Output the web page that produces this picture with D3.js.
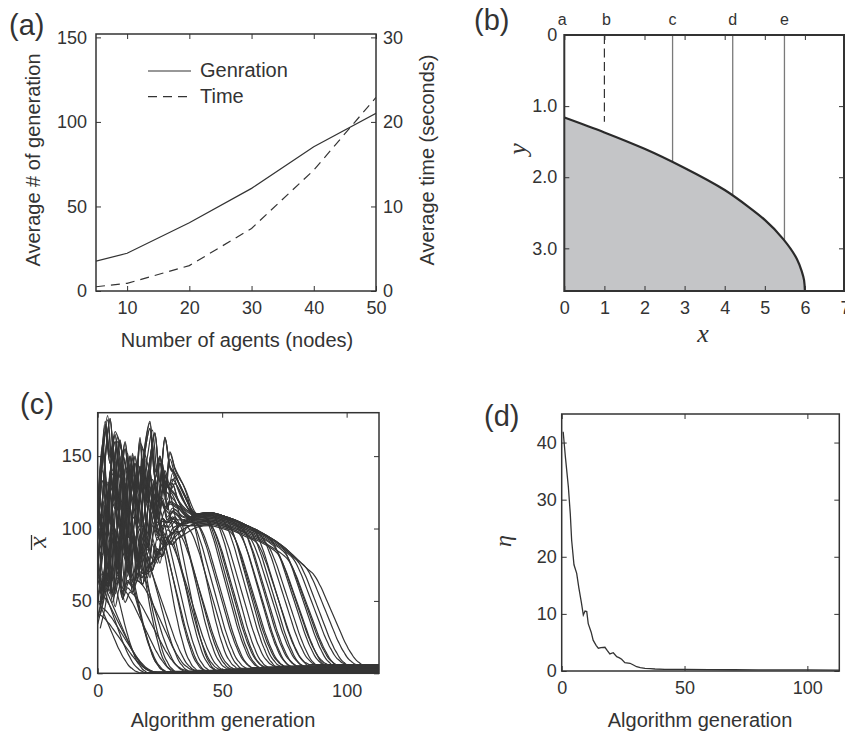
<!DOCTYPE html>
<html>
<head>
<meta charset="utf-8">
<script src="https://cdn.jsdelivr.net/npm/d3@7"></script>
<style>
  body { margin: 0; background: #fff; }
  svg text { font-family: "Liberation Sans", Arial, Helvetica, sans-serif; fill: #333; }
  .tick text { font-size: 18px; }
  .axis-title { font-size: 20px; }
  .panel-tag { font-size: 29px; }
  .math { font-family: "Liberation Serif", "DejaVu Serif", serif; font-style: italic; }
</style>
</head>
<body>
<svg id="fig" width="845" height="735"></svg>
<script>
// ---- (a) generations / time vs number of agents
const agents = [5, 10, 20, 30, 40, 50];
const avgGenerations = [17.7, 22.3, 40.4, 60.7, 85.3, 105.1];
const avgTimeSec = [0.5, 0.91, 3.0, 7.4, 14.3, 22.9];

// ---- (b) boundary curve and marker lines
const boundaryX = [0, 1, 2, 3, 4, 4.6, 5, 5.46, 5.8, 5.92, 5.98, 6.0];
const boundaryY = [1.16, 1.37, 1.6, 1.87, 2.18, 2.42, 2.6, 2.87, 3.15, 3.32, 3.45, 3.6];
const markerNames = ['a', 'b', 'c', 'd', 'e'];
const markerX = [0, 1, 2.7, 4.2, 5.49];
const markerEnd = [0, 1.22, 1.79, 2.25, 2.89];

// ---- (c) x-bar traces: noisy early rows (gens 0..34 step 2), shared crest, drop shape
const earlyGen = [0, 2, 4, 6, 8, 10, 12, 14, 16, 18, 20, 22, 24, 26, 28, 30, 32, 34];
const earlyRows = [
  [130, 172, 150, 165, 140, 160, 135, 150, 128, 158, 174, 140, 150, 132, 128, 124, 118, 114],
  [95, 150, 178, 140, 163, 130, 152, 120, 145, 130, 150, 168, 135, 165, 145, 140, 132, 125],
  [110, 90, 140, 120, 150, 110, 145, 125, 163, 120, 140, 110, 150, 125, 153, 142, 135, 128],
  [70, 120, 95, 150, 100, 135, 95, 130, 105, 140, 115, 135, 120, 140, 130, 135, 130, 122],
  [60, 80, 130, 90, 125, 85, 118, 92, 125, 100, 130, 110, 125, 118, 122, 120, 118, 115],
  [120, 100, 75, 115, 80, 120, 78, 110, 85, 115, 95, 120, 105, 115, 112, 115, 112, 110],
  [50, 70, 60, 100, 65, 105, 70, 95, 75, 100, 85, 105, 95, 105, 104, 108, 106, 106],
  [85, 60, 95, 65, 100, 60, 90, 65, 85, 70, 90, 80, 95, 90, 100, 98, 102, 104],
  [40, 55, 75, 55, 70, 58, 65, 62, 70, 68, 75, 78, 85, 88, 95, 98, 102, 105],
  [100, 140, 110, 160, 120, 148, 100, 140, 110, 155, 125, 160, 115, 145, 120, 138, 128, 120],
  [75, 110, 70, 105, 75, 110, 80, 100, 70, 95, 72, 95, 82, 100, 95, 102, 104, 106],
  [115, 160, 125, 155, 108, 145, 115, 155, 120, 135, 100, 128, 108, 125, 112, 118, 116, 112]
];
const crestGen = [40, 45, 50, 55, 60, 65, 70, 75, 80, 85, 90, 95];
const crestVal = [110, 111, 109, 106, 102, 98, 93, 87, 79, 71, 62, 50];
const dropShape = [1, 0.98, 0.95, 0.91, 0.86, 0.81, 0.75, 0.69, 0.63, 0.57, 0.51, 0.45,
                   0.39, 0.33, 0.27, 0.22, 0.17, 0.13, 0.09, 0.06, 0.04, 0.02, 0.01, 0];
const startC = [-6, -4, -3, -1, 0, 1, 2, 4, 5, 6, 8, 9, 10, 12, 13, 14, 16, 17, 18, 20,
                21, 23, 24, 25, 27, 28, 30, 31, 33, 34, 36, 37, 39, 40, 42, 43, 44, 45, 46, 48,
                50, 51, 52, 53, 55, 56, 57, 58, 60, 61, 62, 63, 65, 67, 69, 70, 71, 73, 74, 75,
                77, 79, 82, 85];
const profC = [3, 7, 5, 10, 4, 8, 6, 2, 11, 9, 0, 1, 6, 3, 8, 5, 10, 7, 2, 4, 9, 11, 1, 0,
               5, 8, 3, 6, 10, 2, 7, 4, 0, 11, 9, 1, 3, 5, 8, 10, 6, 2, 4, 7, 1, 9, 0, 11,
               8, 6, 3, 5, 10, 2, 7, 4, 9, 0, 1, 11, 5, 3, 8, 6];
const shiftC = [0, 1, 0, 1, 1, 0, 1, 0, 0, 1, 1, 0, 1, 0, 1, 0, 0, 1, 1, 0, 1, 0, 0, 1,
                0, 0, 1, 1, 0, 1, 0, 1, 1, 0, 0, 1, 1, 0, 0, 1, 0, 1, 1, 0, 1, 0, 1, 0,
                0, 1, 1, 0, 0, 1, 0, 1, 0, 1, 1, 0, 1, 0, 1, 0];
const levelC = [-2, -5, 0, -7, -3, 1, -4, -8, -1, -6, 2, -3, -5, 0, -9, -2, -6, -1, -4, 1, -7, -3, 0, -5,
                -8, -2, -4, 0, -6, -1, -9, -3, -5, -7, 0, -2, -4, -8, -1, -6, -3, 0, -5, -9, -2, -7, -1, -4,
                -6, -3, 0, -8, -2, -5, -1, -4, -7, 0, -3, -6, -2, -1, 0, 0];
const tailC = [0.3, 0.5, 0.4, 0.8, 0.6, 1, 0.5, 0.9, 1.2, 0.7, 1, 1.4, 0.8, 1.2, 1.6, 1, 1.8, 1.3, 2, 1.5, 1, 1.8, 2.2, 1.4,
               2.5, 1.8, 3, 2.2, 2.8, 3.5, 2, 3.2, 4, 2.6, 3.8, 3, 4.4, 2.8, 3.6, 4.8, 3.2, 4.2, 5, 3.8,
               4.4, 2.8, 5.2, 3.8, 4.8, 3.2, 6, 4, 5.4, 3.4, 4.6, 5.6, 2.6, 4.2, 5, 3.8, 6, 4.4, 5.2, 4.8];

// ---- (d) eta vs generation
const etaGen = [0.6, 1.5, 2.7, 3.5, 4.05, 5, 6.1, 7, 8, 8.8, 9.5, 10.2, 10.8, 12, 12.8, 14, 14.9, 16, 17.6,
                18.5, 19.6, 21, 22.4, 23.5, 24.4, 25.7, 27.8, 29, 30.5, 32, 33.9, 36, 38, 42, 50, 60, 70, 80, 90, 100, 113];
const etaVal = [41.9, 37.5, 32.3, 27.5, 22.9, 18.6, 17.1, 14.5, 12, 9.8, 10.5, 10.4, 8.3, 6.8, 5.4, 4.5, 4.0, 4.1, 4.15,
                3.6, 3.0, 3.2, 2.5, 2.3, 2.05, 1.45, 1.35, 1.1, 0.75, 0.6, 0.47, 0.4, 0.35, 0.3, 0.28, 0.25, 0.22, 0.2, 0.2, 0.18, 0.15];

const ink = '#333';
const svg = d3.select('#fig');

// frame + inward ticks on all four sides
function drawAxes(box, x, y, o) {
  const g = svg.append('g');
  g.append('g').attr('transform', `translate(0,${box.y1})`)
    .call(d3.axisBottom(x).tickValues(o.xt).tickFormat(o.xf || null).tickSizeInner(-5).tickSizeOuter(0).tickPadding(o.xpad || 10));
  g.append('g').attr('transform', `translate(0,${box.y0})`)
    .call(d3.axisTop(x).tickValues(o.xt).tickFormat('').tickSizeInner(-5).tickSizeOuter(0));
  g.append('g').attr('transform', `translate(${box.x0},0)`)
    .call(d3.axisLeft(y).tickValues(o.yt).tickFormat(o.yf || null).tickSizeInner(-5).tickSizeOuter(0).tickPadding(o.ypad || 8));
  if (o.y2) {
    g.append('g').attr('transform', `translate(${box.x1},0)`)
      .call(d3.axisRight(o.y2).tickValues(o.yt2).tickSizeInner(-5).tickSizeOuter(0).tickPadding(7));
  } else {
    g.append('g').attr('transform', `translate(${box.x1},0)`)
      .call(d3.axisRight(y).tickValues(o.yt).tickFormat('').tickSizeInner(-5).tickSizeOuter(0));
  }
  g.selectAll('.domain').remove();
  g.selectAll('.tick line').attr('stroke', ink);
  g.selectAll('.tick text').attr('fill', ink).attr('font-family', null).attr('font-size', null);
  g.append('rect')
    .attr('x', box.x0).attr('y', box.y0)
    .attr('width', box.x1 - box.x0).attr('height', box.y1 - box.y0)
    .attr('fill', 'none').attr('stroke', ink).attr('stroke-width', o.frame || 1.5);
  return g;
}

function clipFor(id, box) {
  svg.append('clipPath').attr('id', id).append('rect')
    .attr('x', box.x0).attr('y', box.y0)
    .attr('width', box.x1 - box.x0).attr('height', box.y1 - box.y0);
  return `url(#${id})`;
}

function tag(txt, x, y) {
  svg.append('text').attr('class', 'panel-tag').attr('x', x).attr('y', y).text(txt);
}

// ================= (a)
const boxA = {x0: 96, x1: 376, y0: 34, y1: 291};
const xA = d3.scaleLinear().domain([5, 50]).range([boxA.x0, boxA.x1]);
const yA = d3.scaleLinear().domain([0, 152]).range([boxA.y1, boxA.y0]);
const yA2 = d3.scaleLinear().domain([0, 30.4]).range([boxA.y1, boxA.y0]);
const clipA = clipFor('clipA', boxA);

svg.append('path')
  .datum(agents.map((a, i) => [a, avgGenerations[i]]))
  .attr('clip-path', clipA)
  .attr('fill', 'none').attr('stroke', ink).attr('stroke-width', 1.2)
  .attr('d', d3.line().x(d => xA(d[0])).y(d => yA(d[1])));
svg.append('path')
  .datum(agents.map((a, i) => [a, avgTimeSec[i]]))
  .attr('clip-path', clipA)
  .attr('fill', 'none').attr('stroke', ink).attr('stroke-width', 1.2)
  .attr('stroke-dasharray', '9,6')
  .attr('d', d3.line().x(d => xA(d[0])).y(d => yA2(d[1])));

drawAxes(boxA, xA, yA, {xt: [10, 20, 30, 40, 50], yt: [0, 50, 100, 150], y2: yA2, yt2: [0, 10, 20, 30], ypad: 9});

// legend
const legA = svg.append('g');
legA.append('line').attr('x1', 148).attr('x2', 191).attr('y1', 71).attr('y2', 71)
  .attr('stroke', ink).attr('stroke-width', 1.2);
legA.append('text').attr('class', 'axis-title').attr('x', 200).attr('y', 77).text('Genration');
legA.append('line').attr('x1', 148).attr('x2', 191).attr('y1', 96.7).attr('y2', 96.7)
  .attr('stroke', ink).attr('stroke-width', 1.2).attr('stroke-dasharray', '9,6');
legA.append('text').attr('class', 'axis-title').attr('x', 200).attr('y', 103).text('Time');

svg.append('text').attr('class', 'axis-title').attr('text-anchor', 'middle')
  .attr('x', 237).attr('y', 347).text('Number of agents (nodes)');
svg.append('text').attr('class', 'axis-title').attr('text-anchor', 'middle')
  .attr('transform', 'translate(40,160) rotate(-90)').text('Average # of generation');
svg.append('text').attr('class', 'axis-title').attr('text-anchor', 'middle')
  .attr('transform', 'translate(434,160) rotate(-90)').text('Average time (seconds)');
tag('(a)', 9, 35);

// ================= (b)
const boxB = {x0: 564.3, x1: 844, y0: 35, y1: 291};
const xB = d3.scaleLinear().domain([0, 7]).range([boxB.x0, 845]);
const yB = d3.scaleLinear().domain([0, 3.6]).range([boxB.y0, boxB.y1]);
const bPts = boundaryX.map((v, i) => [v, boundaryY[i]]);

// shaded region: from the left axis out to the boundary, for each y
svg.append('path').datum(bPts)
  .attr('fill', '#c4c5c7')
  .attr('d', d3.area().y(d => yB(d[1])).x0(xB(0)).x1(d => xB(d[0])).curve(d3.curveMonotoneY));

markerX.forEach((mx, i) => {
  if (i > 0) {
    svg.append('line')
      .attr('x1', xB(mx)).attr('x2', xB(mx))
      .attr('y1', yB(0)).attr('y2', yB(markerEnd[i]))
      .attr('stroke', i === 1 ? ink : '#7a7a7a')
      .attr('stroke-width', i === 1 ? 1.2 : 1.3)
      .attr('stroke-dasharray', i === 1 ? '9,4.5' : null);
  }
  svg.append('text').attr('text-anchor', 'middle')
    .attr('x', xB(mx) + (i === 0 ? -2 : i === 1 ? 2 : 0)).attr('y', 25)
    .attr('font-size', 16).text(markerNames[i]);
});

svg.append('path').datum(bPts)
  .attr('fill', 'none').attr('stroke', '#2a2a2a').attr('stroke-width', 2.2)
  .attr('d', d3.line().x(d => xB(d[0])).y(d => yB(d[1])).curve(d3.curveMonotoneY));

drawAxes(boxB, xB, yB, {xt: [0, 1, 2, 3, 4, 5, 6, 7], xf: d3.format('d'), yt: [0, 1, 2, 3],
  yf: d => d === 0 ? '0' : d.toFixed(1), frame: 2, ypad: 7});

svg.append('text').attr('class', 'math').attr('text-anchor', 'middle')
  .attr('font-size', 26).attr('x', 703).attr('y', 342).text('x');
svg.append('text').attr('class', 'math').attr('text-anchor', 'middle')
  .attr('font-size', 26).attr('transform', 'translate(526,149) rotate(-90)').text('y');
tag('(b)', 474, 30);

// ================= (c)
const boxC = {x0: 97.7, x1: 379, y0: 412.7, y1: 673.3};
const xC = d3.scaleLinear().domain([0, 113]).range([boxC.x0, boxC.x1]);
const yC = d3.scaleLinear().domain([0, 180]).range([boxC.y1, boxC.y0]);
const crest = d3.scaleLinear().domain(crestGen).range(crestVal).clamp(true);
const clipC = clipFor('clipC', boxC);

function tracePoints(i) {
  const row = earlyRows[profC[i]], sh = shiftC[i], s = startC[i], L = levelC[i], T = tailC[i];
  const pts = [];
  let g0, v0, k0 = 0;
  if (s <= 0) {
    g0 = 0; v0 = row[0] + L; k0 = -s;
  } else {
    earlyGen.forEach((g, j) => { if (g + sh <= s) pts.push([g + sh, row[j] + L]); });
    const lastEarly = earlyGen[earlyGen.length - 1] + sh;
    if (s > lastEarly) {
      crestGen.forEach((g, j) => { if (g > lastEarly && g < s) pts.push([g, crestVal[j] + L]); });
      g0 = s; v0 = crest(s) + L;
    } else {
      const last = pts.pop();
      g0 = last[0]; v0 = last[1];
    }
  }
  for (let k = k0; k < dropShape.length; k++) {
    pts.push([g0 + k - k0, T + (v0 - T) * dropShape[k]]);
  }
  pts.push([113, T]);
  return pts;
}

const traceLine = d3.line().x(d => xC(d[0])).y(d => yC(d[1])).curve(d3.curveMonotoneX);
svg.append('g').attr('clip-path', clipC)
  .selectAll('path').data(startC.map((_, i) => tracePoints(i)))
  .join('path')
  .attr('fill', 'none').attr('stroke', '#353535').attr('stroke-width', 1.2)
  .attr('d', traceLine);

drawAxes(boxC, xC, yC, {xt: [0, 50, 100], yt: [0, 50, 100, 150], ypad: 6, xpad: 11});
svg.append('text').attr('class', 'axis-title').attr('text-anchor', 'middle')
  .attr('x', 223).attr('y', 727).text('Algorithm generation');
// x-bar label, rotated
svg.append('text').attr('class', 'math').attr('text-anchor', 'middle')
  .attr('font-size', 26).attr('transform', 'translate(46,542) rotate(-90)').text('x');
svg.append('line').attr('x1', 31.5).attr('x2', 31.5).attr('y1', 535).attr('y2', 550)
  .attr('stroke', ink).attr('stroke-width', 1.3);
tag('(c)', 20, 414);

// ================= (d)
const boxD = {x0: 561.7, x1: 839.3, y0: 414, y1: 671};
const xD = d3.scaleLinear().domain([0, 113]).range([boxD.x0, boxD.x1]);
const yD = d3.scaleLinear().domain([0, 45]).range([boxD.y1, boxD.y0]);
const clipD = clipFor('clipD', boxD);

svg.append('path')
  .datum(etaGen.map((g, i) => [g, etaVal[i]]))
  .attr('clip-path', clipD)
  .attr('fill', 'none').attr('stroke', ink).attr('stroke-width', 1.3)
  .attr('d', d3.line().x(d => xD(d[0])).y(d => yD(d[1])));

drawAxes(boxD, xD, yD, {xt: [0, 50, 100], yt: [0, 10, 20, 30, 40], ypad: 5});
svg.append('text').attr('class', 'axis-title').attr('text-anchor', 'middle')
  .attr('x', 700).attr('y', 727).text('Algorithm generation');
svg.append('text').attr('class', 'math').attr('text-anchor', 'middle')
  .attr('font-size', 24).attr('transform', 'translate(511,541) rotate(-90)').text('\u03b7');
tag('(d)', 484, 426);
</script>
</body>
</html>
